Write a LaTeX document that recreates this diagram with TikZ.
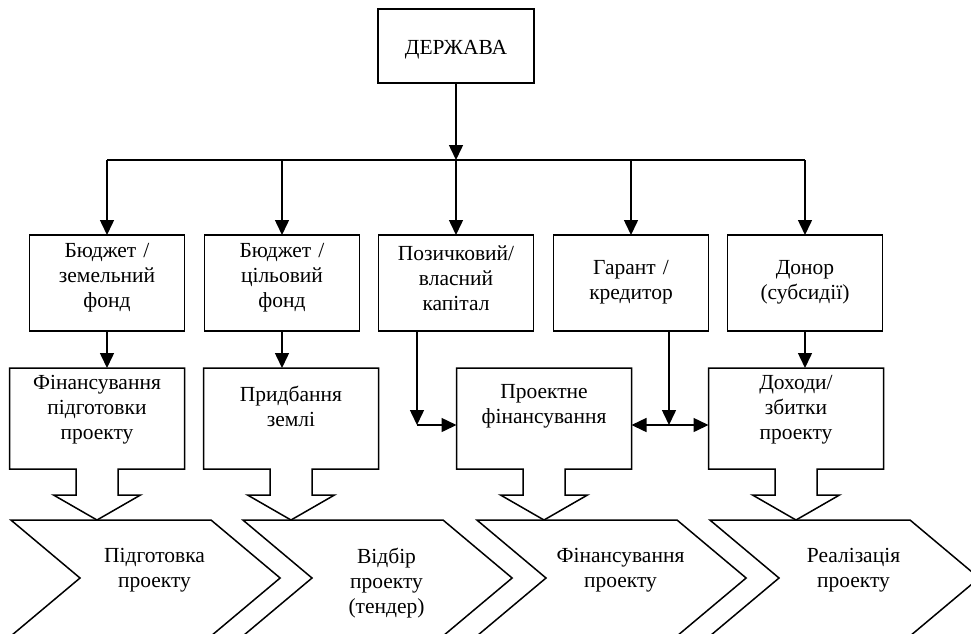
\documentclass[tikz,border=0pt]{standalone}
\usepackage{fontspec}
\setmainfont{Liberation Serif}
\usetikzlibrary{arrows.meta,calc,shapes.symbols}

\tikzset{
  every node/.style={font=\fontsize{21.5}{25}\selectfont},
  ln/.style={line width=1.5pt},
  arr/.style={ln, -{Triangle[width=14pt,length=15pt]}},
  darr/.style={ln, {Triangle[width=14pt,length=15pt]}-{Triangle[width=14pt,length=15pt]}},
  topbox/.style={draw, ln, rectangle, inner sep=0pt, outer sep=0pt,
    minimum width=155pt, minimum height=96pt, text width=150pt, align=center,
    execute at end node={\par\vspace*{#1}}},
  topbox/.default=10pt,
  lowbox/.style={rectangle, inner sep=0pt, outer sep=0pt,
    minimum width=175pt, minimum height=101pt, text width=170pt, align=center,
    execute at end node={\par\vspace*{#1}}},
  lowbox/.default=17pt,
  stage/.style={draw, ln, signal, signal from=west, signal to=east,
    signal pointer angle=80, minimum height=116pt,
    inner sep=0pt, outer sep=0pt, text width=131pt, align=center,
    execute at begin node={\advance\leftskip by 9pt\advance\rightskip by -9pt},
    execute at end node={\par\vspace*{#1}}},
  stage/.default=15pt
}

% lower box with its block arrow
\newcommand{\blockarrow}[1]{%
  \draw[ln] ($(#1.south)+(21,0)$) -- (#1.south east) -- (#1.north east)
    -- (#1.north west) -- (#1.south west) -- ($(#1.south)+(-21,0)$)
    -- ++(0,26) -- ++(-22.5,0) -- ($(#1.south)+(0,51)$)
    -- ($(#1.south)+(43.5,26)$) -- ($(#1.south)+(21,26)$) -- cycle;}

\begin{document}
\begin{tikzpicture}[x=1pt, y=-1pt]
  \useasboundingbox (0,0) rectangle (971,633);

  \node[draw, ln, rectangle, inner sep=0pt, outer sep=0pt, text height=20pt, text depth=4pt,
        minimum width=156pt, minimum height=74pt] (state) at (456,46) {ДЕРЖАВА};
  \coordinate (bus) at (456,160);

  % sources
  \node[topbox] (b1) at (107,283) {Бюджет /\\земельний\\фонд};
  \node[topbox] (b2) at (282,283) {Бюджет /\\цільовий\\фонд};
  \node[topbox] (b3) at (456,283) {Позичковий/\\власний\\капітал};
  \node[topbox=1pt] (b4) at (631,283) {Гарант /\\кредитор};
  \node[topbox=1pt] (b5) at (805,283) {Донор\\(субсидії)};

  \draw[arr] (state.south) -- (bus);
  \draw[ln] (b1.north |- bus) -- (b5.north |- bus);
  \foreach \b in {b1,b2,b3,b4,b5}
    \draw[arr] (\b.north |- bus) -- (\b.north);

  % uses
  \node[lowbox] (lb1) at (97,418.5) {Фінансування\\підготовки\\проекту};
  \node[lowbox=24pt] (lb2) at (291,418.5) {Придбання\\землі};
  \node[lowbox=24pt] (lb3) at (544,418.5) {Проектне\\фінансування};
  \node[lowbox] (lb5) at (796,418.5) {Доходи/\\збитки\\проекту};
  \foreach \n in {lb1,lb2,lb3,lb5}
    \blockarrow{\n};

  \draw[arr] (b1.south) -- (b1.south |- lb1.north);
  \draw[arr] (b2.south) -- (b2.south |- lb2.north);
  \draw[arr] (b5.south) -- (b5.south |- lb5.north);

  \coordinate (c3) at (417,425);
  \coordinate (c4) at (669,425);
  \draw[arr] (c3 |- b3.south) -- (c3);
  \draw[arr] (c3) -- (c3 -| lb3.west);
  \draw[arr] (c4 |- b4.south) -- (c4);
  \draw[darr] (lb3.east |- c4) -- (lb5.west |- c4);

  % stages
  \node[stage] (s1) at (145.5,578) {Підготовка\\проекту};
  \node[stage=-10pt] (s2) at (377.5,578) {Відбір\\проекту\\(тендер)};
  \node[stage] (s3) at (611.5,578) {Фінансування\\проекту};
  \node[stage] (s4) at (844.5,578) {Реалізація\\проекту};
\end{tikzpicture}
\end{document}
